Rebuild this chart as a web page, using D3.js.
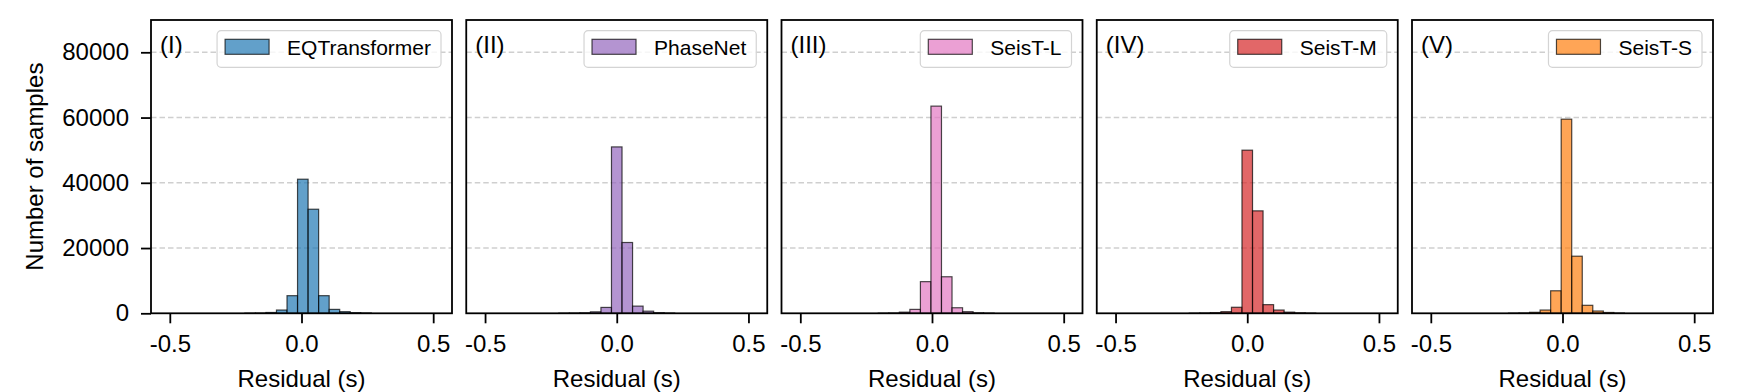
<!DOCTYPE html>
<html>
<head>
<meta charset="utf-8">
<script src="https://cdn.jsdelivr.net/npm/d3@7"></script>
<style>
  body { margin: 0; background: #fff; }
  text { font-family: "Liberation Sans", Arial, Helvetica, sans-serif; fill: #000; }
</style>
</head>
<body>
<div id="chart"></div>
<script>
// residual histograms, one panel per picker
var models = ["EQTransformer", "PhaseNet", "SeisT-L", "SeisT-M", "SeisT-S"];
var panelTags = ["(I)", "(II)", "(III)", "(IV)", "(V)"];
var colors = ["#1f77b4", "#9467bd", "#e377c2", "#d62728", "#ff7f0e"];

// left edge of the first bin (s), bins are 0.04 s wide
var binWidth = 0.04;
var binStart = [-0.215, -0.22, -0.204, -0.22, -0.205];

// counts per bin
var countsEQT   = [50, 80, 250, 1000, 5400, 41100, 31900, 5400, 1200, 500, 200, 100];
var countsPN    = [50, 80, 150, 450, 1800, 51000, 21700, 2200, 650, 200, 80];
var countsSeisL = [50, 100, 350, 1200, 9700, 63500, 11200, 1700, 500, 150, 60];
var countsSeisM = [50, 100, 200, 500, 1850, 50000, 31400, 2650, 1000, 350, 150, 60];
var countsSeisS = [50, 100, 300, 1000, 6900, 59500, 17500, 2450, 700, 250, 80];
var allCounts = [countsEQT, countsPN, countsSeisL, countsSeisM, countsSeisS];

var xTicks = [-0.5, 0.0, 0.5];
var yTicks = [0, 20000, 40000, 60000, 80000];
var xDomain = [-0.5714, 0.5714];
var yDomain = [0, 89900];

var W = 1742, H = 392;
var left0 = 151, step = 315.25, pw = 301;
var plotTop = 20, ph = 293.3;

var svg = d3.select("#chart")
  .append("svg")
    .attr("width", W)
    .attr("height", H);

var x = d3.scaleLinear().domain(xDomain).range([0, pw]);
var y = d3.scaleLinear().domain(yDomain).range([ph, 0]);

models.forEach(function (name, i) {
  var g = svg.append("g")
    .attr("transform", "translate(" + (left0 + i * step) + "," + plotTop + ")");

  // dashed grid
  g.selectAll("line.grid")
    .data(yTicks.filter(function (d) { return d > 0; }))
    .enter().append("line")
      .attr("class", "grid")
      .attr("x1", 0).attr("x2", pw)
      .attr("y1", function (d) { return y(d); })
      .attr("y2", function (d) { return y(d); })
      .attr("stroke", "#cfcfcf")
      .attr("stroke-width", 1.4)
      .attr("stroke-dasharray", "5.5,3");

  var bins = allCounts[i].map(function (c, k) {
    var x0 = binStart[i] + k * binWidth;
    return { x0: x0, x1: x0 + binWidth, n: c };
  });

  g.selectAll("rect.bar")
    .data(bins)
    .enter().append("rect")
      .attr("class", "bar")
      .attr("x", function (d) { return x(d.x0); })
      .attr("width", function (d) { return x(d.x1) - x(d.x0); })
      .attr("y", function (d) { return y(d.n); })
      .attr("height", function (d) { return y(0) - y(d.n); })
      .attr("fill", colors[i])
      .attr("fill-opacity", 0.7)
      .attr("stroke", "#000")
      .attr("stroke-opacity", 0.7)
      .attr("stroke-width", 1.2);

  // x axis
  var xa = g.append("g")
    .attr("transform", "translate(0," + ph + ")")
    .call(d3.axisBottom(x).tickValues(xTicks).tickSize(10).tickPadding(12)
      .tickFormat(function (d) { return d.toFixed(1); }));
  xa.select(".domain").remove();
  xa.selectAll("line").attr("stroke", "#000").attr("stroke-width", 1.8);
  xa.selectAll("text").attr("font-size", 24).attr("font-family", null);

  if (i == 0) {
    var ya = g.append("g")
      .call(d3.axisLeft(y).tickValues(yTicks).tickSize(10).tickPadding(12)
        .tickFormat(d3.format("d")));
    ya.select(".domain").remove();
    ya.selectAll("line").attr("stroke", "#000").attr("stroke-width", 1.8);
    ya.selectAll("text").attr("font-size", 24).attr("font-family", null);
  }

  // frame
  g.append("rect")
    .attr("width", pw).attr("height", ph)
    .attr("fill", "none")
    .attr("stroke", "#000")
    .attr("stroke-width", 1.8);

  g.append("text")
    .attr("x", 9).attr("y", 33)
    .attr("font-size", 24)
    .text(panelTags[i]);

  // legend
  var lg = g.append("g");
  var box = lg.append("rect");
  var label = lg.append("text")
    .attr("font-size", 21)
    .attr("y", 34.5)
    .text(name);
  var tw = label.node().getComputedTextLength();
  var boxR = pw - 11;
  var textX = boxR - 10 - tw;
  label.attr("x", textX);
  var patchX = textX - 18 - 44;
  lg.insert("rect", "text")
    .attr("x", patchX).attr("y", 19.3)
    .attr("width", 44).attr("height", 15)
    .attr("fill", colors[i]).attr("fill-opacity", 0.7)
    .attr("stroke", "#000").attr("stroke-opacity", 0.7)
    .attr("stroke-width", 1.2);
  box
    .attr("x", patchX - 8).attr("y", 10.7)
    .attr("width", boxR - (patchX - 8)).attr("height", 36.6)
    .attr("rx", 4).attr("ry", 4)
    .attr("fill", "#fff").attr("fill-opacity", 0.8)
    .attr("stroke", "#d4d4d4").attr("stroke-width", 1.2);

  svg.append("text")
    .attr("x", left0 + i * step + pw / 2)
    .attr("y", 387)
    .attr("text-anchor", "middle")
    .attr("font-size", 24)
    .text("Residual (s)");
});

svg.append("text")
  .attr("transform", "translate(43," + (plotTop + ph / 2) + ") rotate(-90)")
  .attr("text-anchor", "middle")
  .attr("font-size", 24)
  .text("Number of samples");
</script>
</body>
</html>
